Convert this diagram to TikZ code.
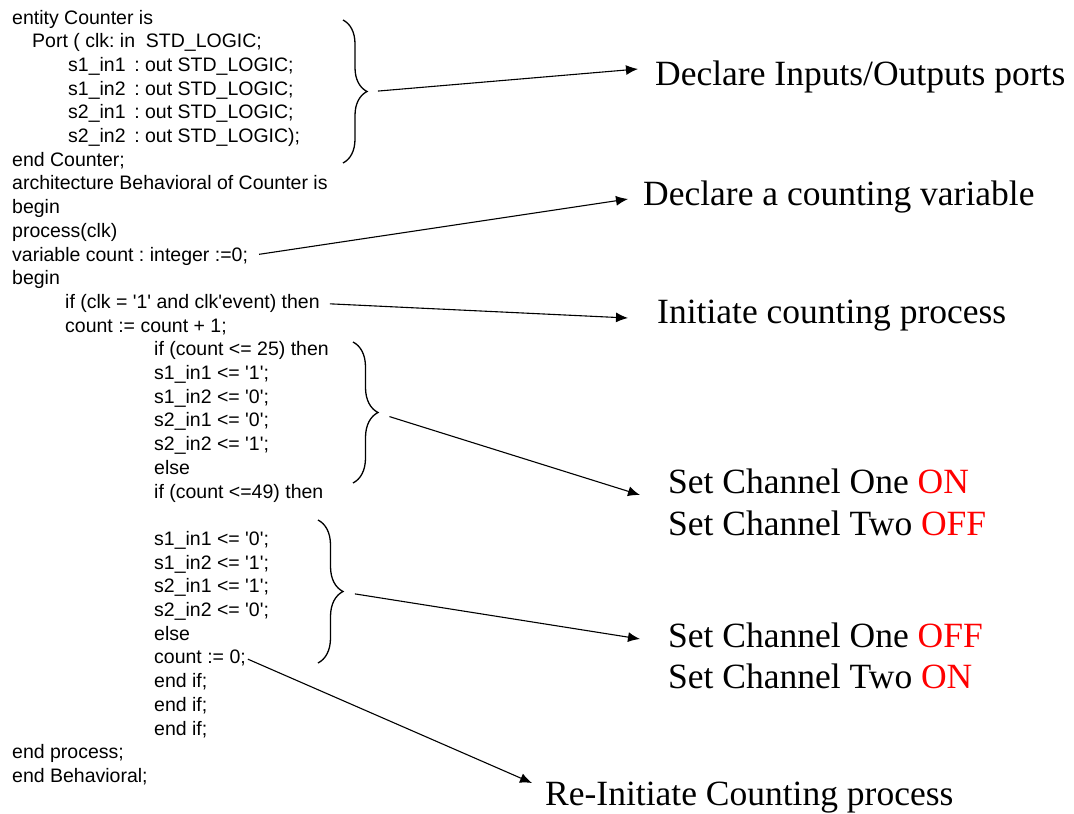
\documentclass[tikz,border=0pt]{standalone}
\usepackage{fontspec}
\setmainfont{Liberation Serif}
\newfontfamily\codefont{Liberation Sans}[Ligatures=TeXOff]
\usetikzlibrary{arrows.meta,decorations.pathreplacing}
\frenchspacing

\begin{document}
\begin{tikzpicture}[x=1pt, y=-1pt]
\useasboundingbox (0,0) rectangle (1074,814);

\begin{scope}[every node/.style={anchor=base west, inner sep=0pt, font=\codefont\fontsize{19.5}{23}\selectfont}]
\node (l1) at (12, 24.0) {entity Counter is};
\node (l2) at (32, 47.7) {Port ( clk: in\ \ STD\_LOGIC;};
\node (l3) at (68, 71.4) {s1\_in1 \,: out STD\_LOGIC;};
\node (l4) at (68, 95.1) {s1\_in2 \,: out STD\_LOGIC;};
\node (l5) at (68, 118.8) {s2\_in1 \,: out STD\_LOGIC;};
\node (l6) at (68, 142.5) {s2\_in2 \,: out STD\_LOGIC);};
\node (l7) at (12, 166.2) {end Counter;};
\node (l8) at (12, 189.9) {architecture Behavioral of Counter is};
\node (l9) at (12, 213.6) {begin};
\node (l10) at (12, 237.3) {process(clk)};
\node (varln) at (12, 261.0) {variable count : integer :=0;};
\node (l12) at (12, 284.7) {begin};
\node (clkln) at (65, 308.4) {if (clk = '1' and clk'event) then};
\node (l14) at (65, 332.1) {count := count + 1;};
\node (l15) at (154, 355.8) {if (count <= 25) then};
\node (l16) at (154, 379.5) {s1\_in1 <= '1';};
\node (l17) at (154, 403.2) {s1\_in2 <= '0';};
\node (l18) at (154, 426.9) {s2\_in1 <= '0';};
\node (l19) at (154, 450.6) {s2\_in2 <= '1';};
\node (l20) at (154, 474.3) {else};
\node (l21) at (154, 498.0) {if (count <=49) then};
\node (l22) at (154, 545.4) {s1\_in1 <= '0';};
\node (l23) at (154, 569.1) {s1\_in2 <= '1';};
\node (l24) at (154, 592.8) {s2\_in1 <= '1';};
\node (l25) at (154, 616.5) {s2\_in2 <= '0';};
\node (l26) at (154, 640.2) {else};
\node (rstln) at (154, 663.9) {count := 0;};
\node (l28) at (154, 687.6) {end if;};
\node (l29) at (154, 711.3) {end if;};
\node (l30) at (154, 735.0) {end if;};
\node (l31) at (12, 758.7) {end process;};
\node (l32) at (12, 782.4) {end Behavioral;};
\end{scope}

\begin{scope}[every node/.style={anchor=base west, inner sep=0pt, font=\fontsize{35.5}{42}\selectfont}]
\node (inout) at (655, 85) {Declare Inputs/Outputs ports};
\node (cntvar) at (643, 205) {Declare a counting variable};
\node (initc) at (657, 323) {Initiate counting process};
\node (on1) at (668, 493) {Set Channel One \textcolor{red}{ON}};
\node (off1) at (668, 535) {Set Channel Two \textcolor{red}{OFF}};
\node (off2) at (668, 647) {Set Channel One \textcolor{red}{OFF}};
\node (on2) at (668, 688) {Set Channel Two \textcolor{red}{ON}};
\node (reinit) at (545, 805) {Re-Initiate Counting process};
\end{scope}

% braces round the code blocks
\begin{scope}[line width=1.3pt]
\draw [decorate, decoration={brace, amplitude=24pt}] (343, 20) -- (343, 163);
\draw [decorate, decoration={brace, amplitude=25pt}] (353, 342) -- (353, 483);
\draw [decorate, decoration={brace, amplitude=25pt}] (318, 520) -- (318, 663);
\end{scope}
\coordinate (b1) at (367, 92);
\coordinate (b2) at (378, 413);
\coordinate (b3) at (343, 592);

% arrow tips next to the notes
\coordinate (inout tip) at (638, 69);
\coordinate (cntvar tip) at (628, 199);
\coordinate (initc tip) at (628, 318);
\coordinate (on1 tip) at (640, 495);
\coordinate (off2 tip) at (640, 639);
\coordinate (reinit tip) at (532, 783);

\begin{scope}[-{Latex[length=12pt, width=10pt]}, line width=1.1pt]
\draw [shorten <=11pt] (b1) -- (inout tip);
\draw [shorten <=11pt] (varln.east) -- (cntvar tip);
\draw [shorten <=10pt] (clkln.east) -- (initc tip);
\draw [shorten <=12pt] (b2) -- (on1 tip);
\draw [shorten <=12pt] (b3) -- (off2 tip);
\draw [shorten <=2pt] (rstln.east) -- (reinit tip);
\end{scope}

\end{tikzpicture}
\end{document}
